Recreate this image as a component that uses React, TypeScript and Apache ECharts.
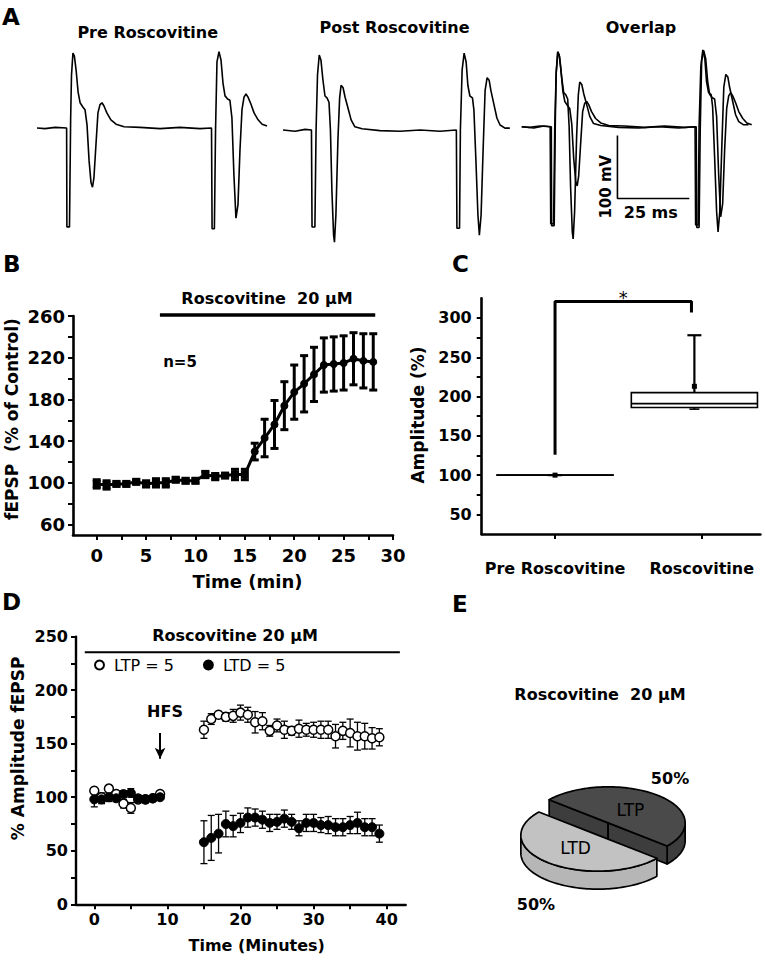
import React, { useEffect, useRef } from 'react';
import * as echarts from 'echarts';

// ---------------- Panel A: field potential traces (time ms, voltage mV) ----------------
const preTrace: number[][] = [
  [0, 0], [2.8, -1], [6.3, 1], [10.3, 0], [10.4, -157], [11.3, -157], [11.7, 13], [12, 84], [12.5, 119], [13, 114],
  [13.6, 92], [14.3, 57], [15, 40], [16, 33], [16.7, 29], [17.4, 5], [18.1, -51], [18.8, -87], [19.3, -94], [19.8, -79],
  [20.5, -27], [21.2, 24], [21.9, 37], [22.6, 40], [23.3, 35], [24.3, 24], [25.7, 13], [27.5, 6], [30.3, 2], [35.8, 1],
  [42.8, -1], [49.7, 1], [56.7, -1], [60.7, 0], [60.9, -160], [61.7, -160], [62.1, -3], [62.6, 105], [63.3, 121], [64, 108],
  [64.7, 71], [65.4, 51], [66.3, 46], [67.1, 44], [67.8, 16], [68.5, -75], [69.2, -143], [69.9, -122], [70.6, -35], [71.3, 29],
  [72, 49], [72.7, 54], [73.4, 49], [74.4, 38], [75.5, 24], [76.9, 13], [78.3, 6], [80, 3],
];
const postTrace: number[][] = [
  [0, 0], [4.2, -2], [7.7, 1], [9.9, 0], [10.1, -154], [11.1, -154], [11.5, 0], [12, 87], [12.6, 119], [13.2, 111],
  [13.9, 79], [14.6, 54], [15.3, 51], [16, 44], [16.5, 0], [17, -95], [17.6, -167], [17.9, -178], [18.4, -135], [19.1, -16],
  [19.7, 51], [20.2, 71], [20.9, 67], [21.6, 52], [22.6, 35], [23.7, 16], [25, 5], [27.5, 2], [33.7, -1], [40.7, -2],
  [47.7, 0], [54.6, -2], [60.3, 0], [60.5, -156], [61.4, -156], [61.7, 0], [62.3, 95], [63, 122], [63.7, 108], [64.3, 71],
  [65, 54], [65.9, 51], [66.4, 32], [67.1, -48], [67.8, -135], [68.3, -167], [68.9, -135], [69.6, -32], [70.3, 63], [71, 83],
  [71.7, 79], [72.3, 63], [73.4, 40], [74.4, 19], [75.5, 8], [77.2, 3], [78.9, 3],
];
const scaleBarMs = [33.3, 33.3, 58.3];
const scaleBarMv = [-14, -114, -114];

// ---------------- Panel B ----------------
const bTime = [0, 1, 2, 3, 4, 5, 6, 7, 8, 9, 10, 11, 12, 13, 14, 15, 16, 17, 18, 19, 20, 21, 22, 23, 24, 25, 26, 27, 28];
const bMean = [99, 98, 99, 99, 101, 99, 100, 100, 103, 102, 102, 108, 106, 107, 108, 108, 130, 143, 156, 174, 187, 195, 204, 213, 214, 215, 219, 217, 216];
const bErr = [4, 4, 2, 2, 2, 3, 4, 4, 2, 2, 2, 3, 3, 2, 5, 5, 8, 18, 23, 23, 26, 27, 26, 26, 26, 26, 25, 26, 27];
const bDrugBar = [6.4, 28.2];
const bYLabels = [60, 100, 140, 180, 220, 260];
const bYTickMarks = [60, 80, 100, 120, 140, 160, 180, 200, 220, 240, 260];
const bXLabels = [0, 5, 10, 15, 20, 25, 30];
const bXTickMarks = [0, 2.5, 5, 7.5, 10, 12.5, 15, 17.5, 20, 22.5, 25, 27.5, 30];

// ---------------- Panel C ----------------
const cCategories = ['Pre Roscovitine', 'Roscovitine'];
const cPos = [1, 1.95];
const cMin = [100, 184];
const cQ1 = [100, 186];
const cMedian = [100, 191];
const cQ3 = [100, 205];
const cMax = [100, 278];
const cMean = [100, 213];
const cBracketX = [1, 1, 1.93, 1.93];
const cBracketY = [126, 321, 321, 307];
const cYLabels = [50, 100, 150, 200, 250, 300];
const cYTickMarks = [50, 75, 100, 125, 150, 175, 200, 225, 250, 275, 300];

// ---------------- Panel D ----------------
const dTime = [0, 1, 2, 3, 4, 5, 6, 7, 8, 9, 15, 16, 17, 18, 19, 20, 21, 22, 23, 24, 25, 26, 27, 28, 29, 30, 31, 32, 33, 34, 35, 36, 37, 38, 39];
const ltpMean = [106, 100, 108, 103, 94, 90, 98, 98, 99, 103,
  163, 173, 177, 175, 176, 179, 177, 170, 171, 162, 167, 163, 162, 164, 163, 163, 163, 163, 157, 162, 160, 157, 157, 155, 156];
const ltpErr = [3, 4, 3, 3, 4, 5, 3, 3, 2, 3,
  8, 5, 3, 4, 6, 7, 7, 10, 8, 5, 6, 8, 4, 8, 6, 7, 8, 8, 11, 8, 13, 13, 12, 10, 8];
const ltdMean = [98, 98, 100, 99, 103, 104, 99, 98, 99, 100,
  58, 62, 66, 75, 73, 76, 81, 81, 79, 76, 77, 80, 77, 71, 76, 76, 74, 74, 72, 72, 74, 76, 72, 72, 66];
const ltdErr = [7, 4, 4, 3, 3, 4, 3, 3, 2, 2,
  20, 21, 18, 12, 10, 9, 9, 8, 8, 8, 7, 8, 7, 7, 8, 8, 7, 8, 8, 8, 8, 10, 8, 8, 8];
const dDrugBar = [-1.3, 41.8];
const dHfsTime = 9;
const dYLabels = [0, 50, 100, 150, 200, 250];
const dYTickMarks = [0, 25, 50, 75, 100, 125, 150, 175, 200, 225, 250];
const dXLabels = [0, 10, 20, 30, 40];
const dXTickMarks = [0, 5, 10, 15, 20, 25, 30, 35, 40];

// ---------------- Panel E ----------------
const pieNames = ['LTP', 'LTD'];
const pieValues = [50, 50];

// ---------------- layout / style ----------------
const FF = '"DejaVu Sans"';
const PIE = { cx: 603, cy: 829, rx: 77, ry: 36, h: 18, explode: 8, start: 220 };
const pieColors = [
  { top: '#4a4a4a', side: '#3d3d3d' },
  { top: '#c2c2c2', side: '#b6b6b6' },
];
const cHalfWidth = [0.4, 0.43];

function txt(text: string, x: number, y: number, size: number, weight = 'bold', rotation = 0, align = 'center') {
  return {
    type: 'text', x, y, rotation, z: 100,
    style: {
      text, fill: '#000', font: `${weight} ${size}px ${FF}`,
      align, verticalAlign: 'middle', textAlign: align, textVerticalAlign: 'middle',
    },
  };
}

function errorBars(capHalf: number, lw: number) {
  return (params: any, api: any) => {
    const x = api.value(0);
    const lo = api.coord([x, api.value(1)]);
    const hi = api.coord([x, api.value(2)]);
    const style = { stroke: '#000', lineWidth: lw };
    return {
      type: 'group',
      children: [
        { type: 'line', shape: { x1: lo[0], y1: lo[1], x2: hi[0], y2: hi[1] }, style },
        { type: 'line', shape: { x1: lo[0] - capHalf, y1: lo[1], x2: lo[0] + capHalf, y2: lo[1] }, style },
        { type: 'line', shape: { x1: hi[0] - capHalf, y1: hi[1], x2: hi[0] + capHalf, y2: hi[1] }, style },
      ],
    };
  };
}

function hiddenAxes(i: number, xmin: number, xmax: number, ymin: number, ymax: number) {
  return {
    x: { type: 'value', gridIndex: i, min: xmin, max: xmax, show: false },
    y: { type: 'value', gridIndex: i, min: ymin, max: ymax, show: false },
  };
}

function visAxis(i: number, min: number, max: number, labels: number[], ticks: number[], fontSize: number, margin: number, lw: number, formatter?: (v: number) => string) {
  return {
    type: 'value', gridIndex: i, min, max,
    axisLine: { show: true, onZero: false, lineStyle: { color: '#000', width: lw } },
    axisTick: { show: true, customValues: ticks, length: 5, lineStyle: { color: '#000', width: 2 } },
    axisLabel: {
      show: true, customValues: labels, margin, color: '#000', fontFamily: FF, fontWeight: 'bold', fontSize,
      formatter: formatter || ((v: number) => String(v)),
    },
    splitLine: { show: false },
    minorTick: { show: false },
  };
}

function buildOption() {
  const gridBase = { containLabel: false, outerBoundsMode: 'none', show: false };
  const grids = [
    { ...gridBase, left: 37, top: 39.8, width: 230, height: 201.6 },
    { ...gridBase, left: 283, top: 41.8, width: 230, height: 201.6 },
    { ...gridBase, left: 521.7, top: 38.5, width: 230, height: 201.6 },
    { ...gridBase, left: 73, top: 316, width: 320, height: 219 },
    { ...gridBase, left: 481.7, top: 298.3, width: 278.7, height: 235.8 },
    { ...gridBase, left: 76, top: 636.6, width: 329.7, height: 267.7 },
  ];
  const a0 = hiddenAxes(0, 0, 80, -180, 140);
  const a1 = hiddenAxes(1, 0, 80, -180, 140);
  const a2 = hiddenAxes(2, 0, 80, -180, 140);

  const xAxes = [
    a0.x, a1.x, a2.x,
    visAxis(3, -2.4, 30, bXLabels, bXTickMarks, 18, 11, 2.6),
    visAxis(4, 0.5, 2.4, [1, 2], [1, 2], 16, 26, 2.6, (v: number) => cCategories[Math.round(v) - 1] || ''),
    visAxis(5, -2.5, 42.6, dXLabels, dXTickMarks, 16, 7, 2.4),
  ];
  const yAxes = [
    a0.y, a1.y, a2.y,
    visAxis(3, 50, 260, bYLabels, bYTickMarks, 18, 8, 2.6),
    visAxis(4, 25, 325, cYLabels, cYTickMarks, 16, 10, 2.6),
    visAxis(5, 0, 250, dYLabels, dYTickMarks, 16, 8, 2.4),
  ];

  const traceLine = (data: number[][], gi: number, lw = 1.6) => ({
    type: 'line', xAxisIndex: gi, yAxisIndex: gi, data, showSymbol: false, symbol: 'none',
    clip: false, silent: true, lineStyle: { color: '#000', width: lw }, z: 3,
  });

  const series: any[] = [
    traceLine(preTrace, 0),
    traceLine(postTrace, 1),
    traceLine(preTrace, 2),
    traceLine(postTrace, 2),
    traceLine(scaleBarMs.map((t, i) => [t, scaleBarMv[i]]), 2, 1.6),

    // Panel B
    {
      type: 'custom', name: 'bErr', xAxisIndex: 3, yAxisIndex: 3,
      data: bTime.map((t, i) => [t, bMean[i] - bErr[i], bMean[i] + bErr[i]]),
      encode: { x: 0, y: [1, 2] }, renderItem: errorBars(4, 3), clip: false, silent: true,
    },
    {
      type: 'line', xAxisIndex: 3, yAxisIndex: 3, clip: false, silent: true,
      data: bTime.map((t, i) => ({ value: [t, bMean[i]], symbol: t < 16 ? 'rect' : 'circle' })),
      symbolSize: 8, lineStyle: { color: '#000', width: 3 }, itemStyle: { color: '#000' }, z: 4,
    },
    traceLine(bDrugBar.map((t) => [t, 261]), 3, 3.5),

    // Panel C
    traceLine(cBracketX.map((x, i) => [x, cBracketY[i]]), 4, 3),
    {
      type: 'custom', xAxisIndex: 4, yAxisIndex: 4, clip: false, silent: true,
      data: cPos.map((p, i) => [p, cMin[i], cQ1[i], cMedian[i], cQ3[i], cMax[i], cMean[i]]),
      encode: { x: 0, y: [1, 5] },
      renderItem: (params: any, api: any) => {
        const i = params.dataIndex;
        const x = api.value(0);
        const hw = cHalfWidth[i];
        const pL = api.coord([x - hw, api.value(4)]);
        const pR = api.coord([x + hw, api.value(2)]);
        const xc = api.coord([x, 0])[0];
        const yMin = api.coord([x, api.value(1)])[1];
        const yMed = api.coord([x, api.value(3)])[1];
        const yMax = api.coord([x, api.value(5)])[1];
        const yMean = api.coord([x, api.value(6)])[1];
        const st = { stroke: '#000', lineWidth: 1.6 };
        const children: any[] = [
          { type: 'line', shape: { x1: xc, y1: pL[1], x2: xc, y2: yMax }, style: { stroke: '#000', lineWidth: 2.2 } },
          { type: 'line', shape: { x1: xc - 7, y1: yMax, x2: xc + 7, y2: yMax }, style: { stroke: '#000', lineWidth: 2.2 } },
          { type: 'line', shape: { x1: xc, y1: pR[1], x2: xc, y2: yMin }, style: st },
          { type: 'line', shape: { x1: xc - 5, y1: yMin, x2: xc + 5, y2: yMin }, style: st },
          { type: 'rect', shape: { x: pL[0], y: pL[1], width: pR[0] - pL[0], height: pR[1] - pL[1] }, style: { fill: '#fff', stroke: '#000', lineWidth: 1.6 } },
          { type: 'line', shape: { x1: pL[0], y1: yMed, x2: pR[0], y2: yMed }, style: st },
          { type: 'rect', shape: { x: xc - 2.5, y: yMean - 2.5, width: 5, height: 5 }, style: { fill: '#000' } },
        ];
        return { type: 'group', children };
      },
    },

    // Panel D
    {
      ...traceLine(dDrugBar.map((t) => [t, 235.3]), 5, 2),
      markLine: {
        silent: true, symbol: ['none', 'arrow'], symbolSize: [8, 11],
        label: { show: false }, lineStyle: { color: '#000', width: 2, type: 'solid' },
        data: [[{ coord: [dHfsTime, 160] }, { coord: [dHfsTime, 136] }]],
      },
    },
    {
      type: 'custom', xAxisIndex: 5, yAxisIndex: 5, clip: false, silent: true,
      data: dTime.map((t, i) => [t, ltpMean[i] - ltpErr[i], ltpMean[i] + ltpErr[i]]),
      encode: { x: 0, y: [1, 2] }, renderItem: errorBars(3.5, 1.3),
    },
    {
      type: 'custom', xAxisIndex: 5, yAxisIndex: 5, clip: false, silent: true,
      data: dTime.map((t, i) => [t, ltdMean[i] - ltdErr[i], ltdMean[i] + ltdErr[i]]),
      encode: { x: 0, y: [1, 2] }, renderItem: errorBars(3.5, 1.3),
    },
    {
      type: 'scatter', name: 'LTP = 5', xAxisIndex: 5, yAxisIndex: 5, silent: true,
      data: dTime.map((t, i) => [t, ltpMean[i]]), symbol: 'circle', symbolSize: 9,
      itemStyle: { color: '#fff', borderColor: '#000', borderWidth: 1.5, opacity: 1 }, z: 5,
    },
    {
      type: 'scatter', name: 'LTD = 5', xAxisIndex: 5, yAxisIndex: 5, silent: true,
      data: dTime.map((t, i) => [t, ltdMean[i]]), symbol: 'circle', symbolSize: 9,
      itemStyle: { color: '#000', borderColor: '#000', borderWidth: 1, opacity: 1 }, z: 5,
    },

    // Panel E: exploded 3D pie
    {
      type: 'custom', coordinateSystem: 'none', silent: true,
      data: pieValues.map((v, i) => ({ name: pieNames[i], value: v })),
      renderItem: (params: any, api: any) => {
        const i = params.dataIndex;
        const total = pieValues.reduce((s, v) => s + v, 0);
        let acc = 0;
        for (let k = 0; k < i; k++) acc += pieValues[k];
        const s0 = PIE.start + (acc / total) * 360;
        const s1 = s0 + (pieValues[i] / total) * 360;
        const rad = (d: number) => (d * Math.PI) / 180;
        const mid = rad((s0 + s1) / 2);
        const ox = PIE.cx + PIE.explode * Math.cos(mid);
        const oy = PIE.cy + PIE.explode * Math.sin(mid);
        const P = (d: number, dy = 0) => [ox + PIE.rx * Math.cos(rad(d)), oy + PIE.ry * Math.sin(rad(d)) + dy];
        const col = pieColors[i];
        const stroke = { stroke: '#000', lineWidth: 1.7, lineJoin: 'round' };
        const children: any[] = [];
        // outer wall (front-facing arcs only)
        for (let k = Math.floor(s0 / 360) - 1; k <= Math.ceil(s1 / 360); k++) {
          const a = Math.max(s0, 360 * k);
          const b = Math.min(s1, 360 * k + 180);
          if (b > a) {
            const pts: number[][] = [];
            for (let d = a; d < b; d += 2) pts.push(P(d));
            pts.push(P(b));
            for (let d = b; d > a; d -= 2) pts.push(P(d, PIE.h));
            pts.push(P(a, PIE.h));
            children.push({ type: 'polygon', shape: { points: pts }, style: { fill: col.side, ...stroke } });
          }
        }
        // radial cut faces
        const faces: [number, number][] = [[s0, s0 - 90], [s1, s1 + 90]];
        faces.forEach(([ang, nrm]) => {
          if (Math.sin(rad(nrm)) > 0.01) {
            const p = P(ang);
            const q = P(ang, PIE.h);
            children.push({
              type: 'polygon',
              shape: { points: [[ox, oy], p, q, [ox, oy + PIE.h]] },
              style: { fill: col.side, ...stroke },
            });
          }
        });
        // top face
        const top: number[][] = [[ox, oy]];
        for (let d = s0; d < s1; d += 2) top.push(P(d));
        top.push(P(s1));
        children.push({ type: 'polygon', shape: { points: top }, style: { fill: col.top, ...stroke } });
        // labels
        const lx = ox + 0.45 * PIE.rx * Math.cos(mid);
        const ly = oy + 0.45 * PIE.ry * Math.sin(mid);
        children.push({
          type: 'text', x: lx, y: ly,
          style: { text: pieNames[i], font: `normal 17px ${FF}`, fill: '#000', align: 'center', verticalAlign: 'middle' },
        });
        const front = Math.sin(mid) > 0;
        const px = ox + 1.25 * PIE.rx * Math.cos(mid);
        const py = oy + 1.6 * PIE.ry * Math.sin(mid) + (front ? PIE.h + 7 : 0);
        children.push({
          type: 'text', x: px, y: py,
          style: { text: `${Math.round((pieValues[i] / total) * 100)}%`, font: `bold 16px ${FF}`, fill: '#000', align: 'center', verticalAlign: 'middle' },
        });
        return { type: 'group', children };
      },
    },
  ];

  const graphic = [
    txt('A', 2, 16.5, 23, 'bold', 0, 'left'),
    txt('Pre Roscovitine', 147.7, 32, 16),
    txt('Post Roscovitine', 394.5, 27.5, 16),
    txt('Overlap', 641, 27.5, 16),
    txt('100 mV', 605.8, 186.7, 15, 'bold', Math.PI / 2),
    txt('25 ms', 650.8, 212.5, 16),

    txt('B', 3, 264, 23, 'bold', 0, 'left'),
    txt('Roscovitine  20 µM', 267, 298, 16),
    txt('n=5', 180, 361.7, 15),
    txt('fEPSP  (% of Control)', 12, 419, 17, 'bold', Math.PI / 2),
    txt('Time (min)', 247.5, 581.7, 18),

    txt('C', 452, 264, 23, 'bold', 0, 'left'),
    txt('Amplitude (%)', 418, 415, 17, 'bold', Math.PI / 2),
    txt('*', 623.3, 297, 18, 'normal'),

    txt('D', 2, 601.7, 23, 'bold', 0, 'left'),
    txt('Roscovitine 20 μM', 235, 635, 16),
    txt('HFS', 165, 711.7, 16),
    txt('% Amplitude fEPSP', 18.3, 748.3, 17, 'bold', Math.PI / 2),
    txt('Time (Minutes)', 256.7, 945, 16),

    txt('E', 452, 604, 23, 'bold', 0, 'left'),
    txt('Roscovitine  20 µM', 600, 694, 16),
  ];

  return {
    animation: false,
    backgroundColor: '#fff',
    grid: grids,
    xAxis: xAxes,
    yAxis: yAxes,
    legend: {
      show: true, data: ['LTP = 5', 'LTD = 5'], left: 94, top: 657, padding: 0,
      itemGap: 29, itemWidth: 19, itemHeight: 9, icon: 'circle', selectedMode: false,
      textStyle: { fontFamily: FF, fontSize: 16, color: '#000' },
    },
    graphic,
    series,
  };
}

export default function App() {
  const ref = useRef<HTMLDivElement>(null);
  useEffect(() => {
    if (!ref.current) return;
    const chart = echarts.init(ref.current, undefined, { renderer: 'svg' });
    chart.setOption(buildOption() as any);
    return () => chart.dispose();
  }, []);
  return (
    <div
      ref={ref}
      style={{ position: 'fixed', left: 0, top: 0, width: 765, height: 963, background: '#fff' }}
    />
  );
}
